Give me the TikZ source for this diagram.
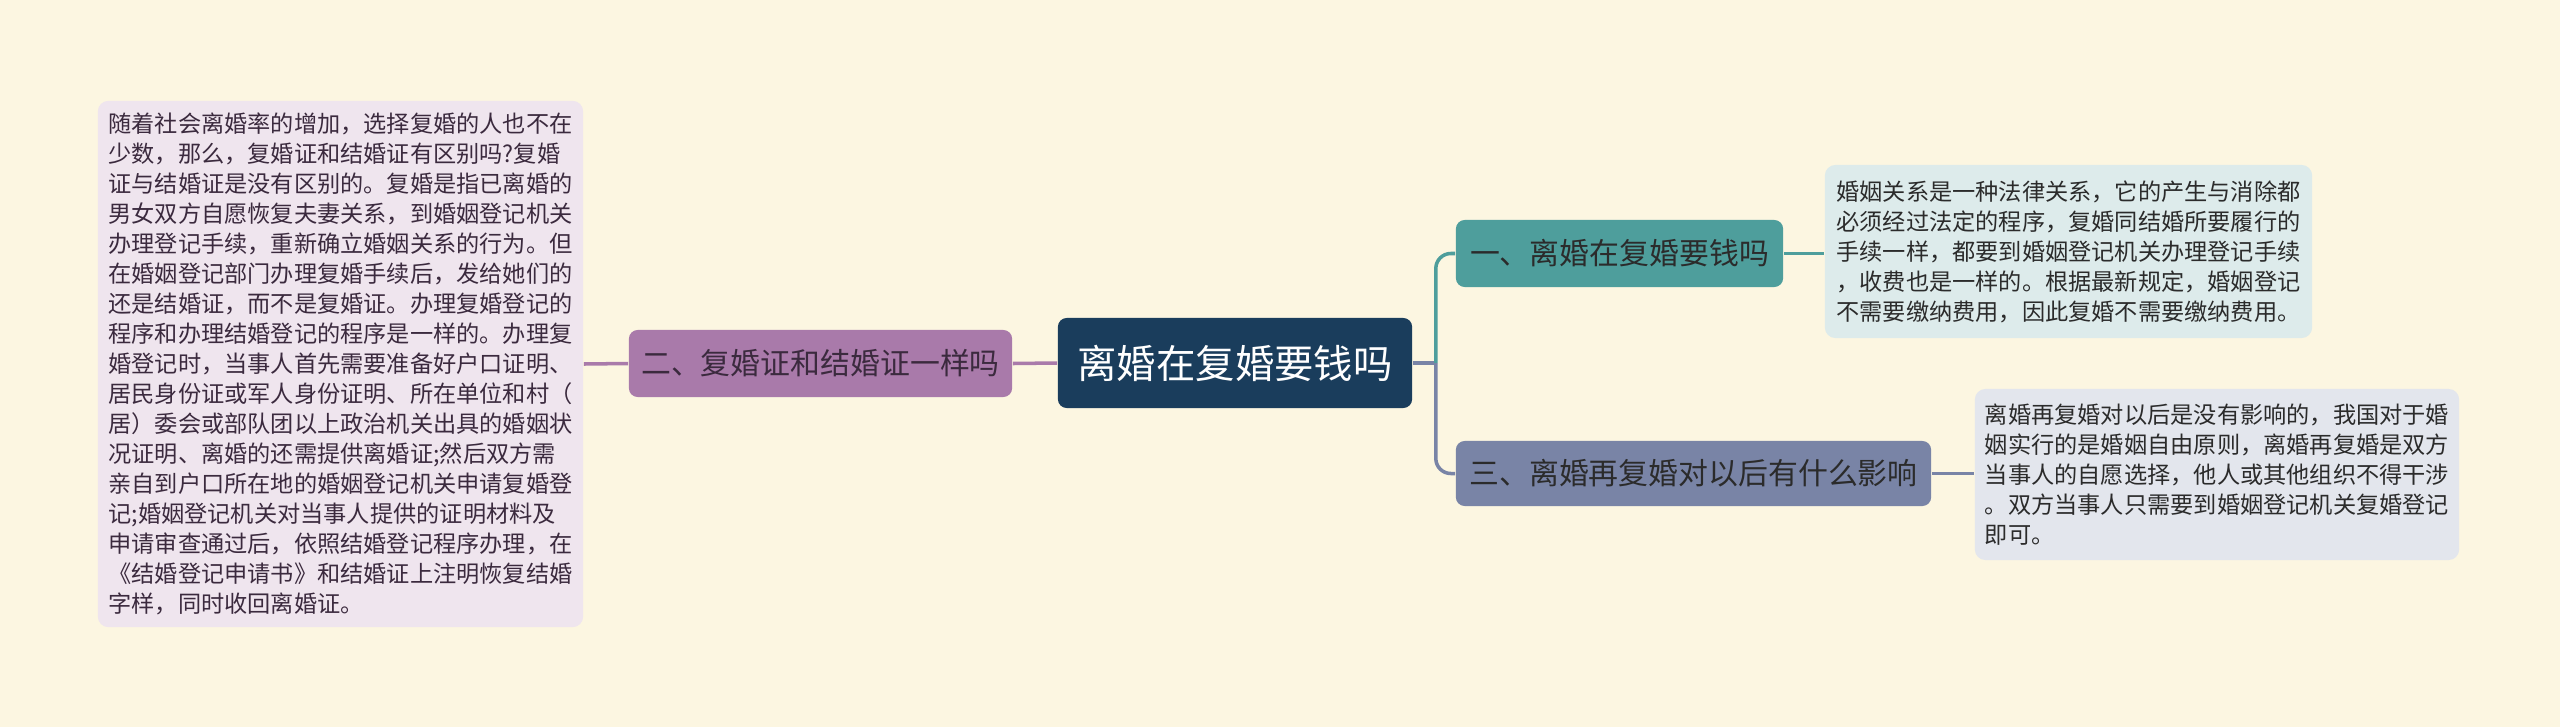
\documentclass[tikz,border=0pt]{standalone}
\usepackage{fontspec}
\setmainfont{Noto Sans CJK SC}
\usetikzlibrary{calc}

\definecolor{bgcream}{HTML}{FCF6E1}
\definecolor{rootnavy}{HTML}{1A3D5C}
\definecolor{plum}{HTML}{A97AAA}
\definecolor{plumleaf}{HTML}{EFE5EE}
\definecolor{plumtext}{HTML}{3B2A3E}
\definecolor{tealbr}{HTML}{4E9E9C}
\definecolor{tealleaf}{HTML}{DDEBEB}
\definecolor{slatebr}{HTML}{7984A6}
\definecolor{slateleaf}{HTML}{E3E6ED}
\definecolor{darktext}{HTML}{2B2B2B}

\begin{document}
\begin{tikzpicture}[
  x=0.01cm, y=-0.01cm,
  leaf/.style={rounded corners=3pt, inner sep=0pt, align=left,
               font=\fontsize{6.6pt}{8.54pt}\selectfont},
  branch/.style={rounded corners=2.5pt, inner sep=0pt,
                 font=\fontsize{8.5pt}{10pt}\selectfont},
  link/.style={line width=1pt}
]

% Background
\fill[bgcream] (0,0) rectangle (2560,727);

%% ---- Root --------------------------------------------------------
\node[fill=rootnavy, text=white, rounded corners=2.5pt, inner sep=0pt,
      minimum width=3.54cm, minimum height=0.9cm,
      font=\fontsize{11.2pt}{13pt}\selectfont]
      (root) at (1235,363) {离婚在复婚要钱吗};

%% ---- Left branch -------------------------------------------------
\node[branch, fill=plum, text=plumtext,
      minimum width=3.83cm, minimum height=0.67cm]
      (cert) at (820.5,363.5) {二、复婚证和结婚证一样吗};

\node[leaf, fill=plumleaf, text=plumtext,
      minimum width=4.85cm, minimum height=5.26cm]
      (certleaf) at (340.5,364)
      {随着社会离婚率的增加，选择复婚的人也不在\\
       少数，那么，复婚证和结婚证有区别吗?复婚\\
       证与结婚证是没有区别的。复婚是指已离婚的\\
       男女双方自愿恢复夫妻关系，到婚姻登记机关\\
       办理登记手续，重新确立婚姻关系的行为。但\\
       在婚姻登记部门办理复婚手续后，发给她们的\\
       还是结婚证，而不是复婚证。办理复婚登记的\\
       程序和办理结婚登记的程序是一样的。办理复\\
       婚登记时，当事人首先需要准备好户口证明、\\
       居民身份证或军人身份证明、所在单位和村（\\
       居）委会或部队团以上政治机关出具的婚姻状\\
       况证明、离婚的还需提供离婚证;然后双方需\\
       亲自到户口所在地的婚姻登记机关申请复婚登\\
       记;婚姻登记机关对当事人提供的证明材料及\\
       申请审查通过后，依照结婚登记程序办理，在\\
       《结婚登记申请书》和结婚证上注明恢复结婚\\
       字样，同时收回离婚证。};

%% ---- Right branches ----------------------------------------------
\node[branch, fill=tealbr, text=darktext,
      minimum width=3.27cm, minimum height=0.67cm]
      (cost) at (1619.5,253.5) {一、离婚在复婚要钱吗};

\node[leaf, fill=tealleaf, text=darktext,
      minimum width=4.87cm, minimum height=1.73cm]
      (costleaf) at (2068.5,251.5)
      {婚姻关系是一种法律关系，它的产生与消除都\\
       必须经过法定的程序，复婚同结婚所要履行的\\
       手续一样，都要到婚姻登记机关办理登记手续\\
       ，收费也是一样的。根据最新规定，婚姻登记\\
       不需要缴纳费用，因此复婚不需要缴纳费用。};

\node[branch, fill=slatebr, text=darktext,
      minimum width=4.75cm, minimum height=0.65cm]
      (effect) at (1693.5,473.5) {三、离婚再复婚对以后有什么影响};

\node[leaf, fill=slateleaf, text=darktext,
      minimum width=4.84cm, minimum height=1.71cm]
      (effectleaf) at (2217,474.5)
      {离婚再复婚对以后是没有影响的，我国对于婚\\
       姻实行的是婚姻自由原则，离婚再复婚是双方\\
       当事人的自愿选择，他人或其他组织不得干涉\\
       。双方当事人只需要到婚姻登记机关复婚登记\\
       即可。};

%% ---- Connectors --------------------------------------------------
\draw[link, plum] (root.west) -- (cert.east);
\draw[link, plum] (cert.west) -- (certleaf.east);

\coordinate (hub) at ($(root.east)+(23,0)$);
\draw[link, slatebr] (root.east) -- (hub);
\draw[link, tealbr, rounded corners=0.15cm] (hub) |- (cost.west);
\draw[link, slatebr, rounded corners=0.15cm] (hub) |- (effect.west);

\draw[link, tealbr] (cost.east) -- (cost.east -| costleaf.west);
\draw[link, slatebr] (effect.east) -- (effect.east -| effectleaf.west);

\end{tikzpicture}
\end{document}
